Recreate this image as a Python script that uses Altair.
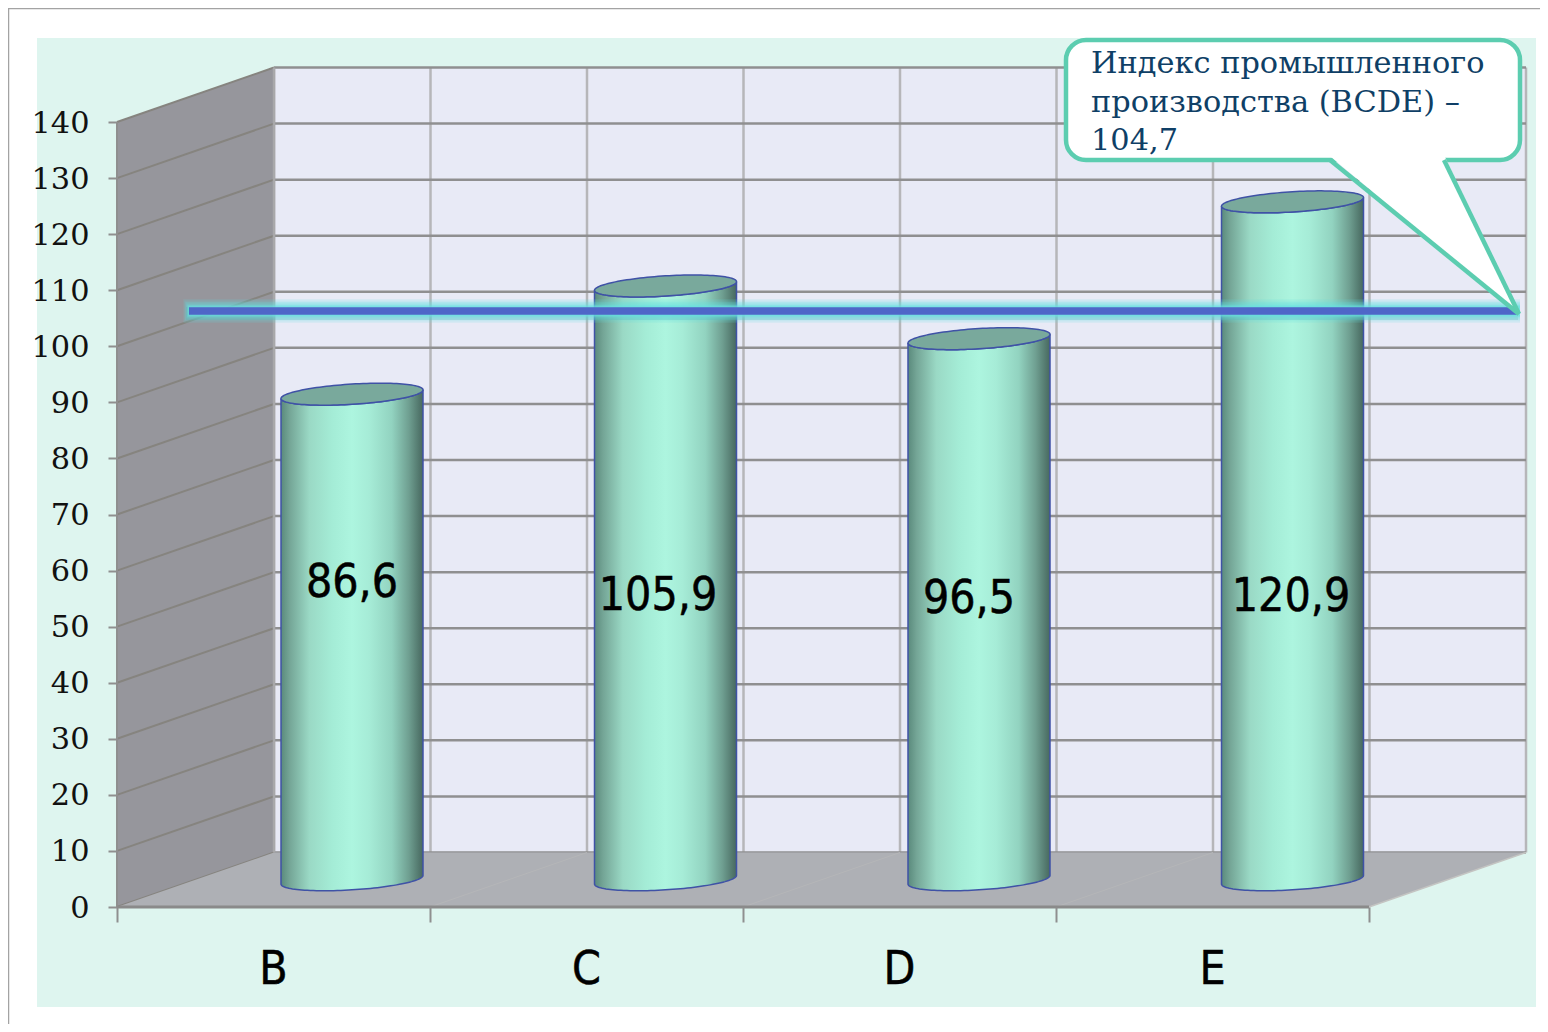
import numpy as np
import pandas as pd
import altair as alt

# ---- chart values -------------------------------------------------------
categories = ["B", "C", "D", "E"]
values = [86.6, 105.9, 96.5, 120.9]
value_labels = ["86,6", "105,9", "96,5", "120,9"]
y_ticks = list(range(0, 150, 10))
x_edges = [0, 1, 2, 3, 4]
index_value = 104.7
callout_lines = ["Индекс промышленного", "производства (BCDE) –", "104,7"]

# ---- projection of the 3D frame -----------------------------------------
W, H = 1532, 1016
PX_U, PX_V = 313.0, 5.607        # px per category, px per value unit
ORG_X, ORG_Y = 117.0, 907.0      # page position of (category 0, value 0)
DEPTH_X, DEPTH_Y = 157.0, 54.5   # px shift from the front to the back plane
BAR_STEP = 313.5
def ux(px): return (px - ORG_X) / PX_U
def vy(py): return (ORG_Y - py) / PX_V
def pu(u, d=0.0): return u + d * DEPTH_X / PX_U
def pv(v, d=0.0): return v + d * DEPTH_Y / PX_V

XS = alt.Scale(domain=[ux(8), ux(8 + W)], nice=False, zero=False)
YS = alt.Scale(domain=[vy(8 + H), vy(8)], nice=False, zero=False)
y_axis = alt.Axis(values=y_ticks, offset=-(ORG_X - 8), tickSize=9, tickWidth=2,
                  tickColor="#8f8f8f", domain=False, grid=False, labelPadding=19,
                  labelFont="DejaVu Serif", labelFontSize=30.4, labelColor="#111111", labelOffset=1,
                  zindex=1, labelFlush=False, labelOverlap=False, title=None)
x_axis = alt.Axis(values=x_edges, offset=-(8 + H - ORG_Y), tickSize=15, tickWidth=2,
                  tickColor="#8f8f8f", domain=False, grid=False, labels=False, zindex=1, title=None)
def X(): return alt.X("x:Q", scale=XS, axis=x_axis, sort=None)
def Y(): return alt.Y("y:Q", scale=YS, axis=y_axis)

def rect(x0, y0, x1, y1, **kw):
    d = pd.DataFrame({"x": [ux(x0)], "x2": [ux(x1)], "y": [vy(y0)], "y2": [vy(y1)]})
    return alt.Chart(d).mark_rect(**kw).encode(x=X(), x2="x2:Q", y=Y(), y2="y2:Q")

def lines(segs, **kw):
    rows = []
    for i, pts in enumerate(segs):
        for k, (a, b) in enumerate(pts):
            rows.append({"x": a, "y": b, "id": i, "k": k})
    return alt.Chart(pd.DataFrame(rows)).mark_line(**kw).encode(
        x=X(), y=Y(), detail="id:N", order="k:Q")

def area(xs, ys, y2s, **kw):
    d = pd.DataFrame({"x": xs, "y": ys, "y2": y2s})
    return alt.Chart(d).mark_area(**kw).encode(x=X(), y=Y(), y2="y2:Q")

layers = []
# outer frame and plate
layers.append(rect(8, 9, 8 + W, 8 + H, fill="white"))
layers.append(lines([[(ux(8.5), vy(8 + H)), (ux(8.5), vy(8.5)), (ux(8 + W), vy(8.5))]],
                    stroke="#a3a3a3", strokeWidth=1.5))
layers.append(rect(37, 38, 1536, 1007, fill="#def5ef"))
# back wall
layers.append(rect(274, 67, 1526, 853, fill="#e8eaf6"))
# vertical grid on the back wall
half_steps = [i * 0.5 for i in range(0, 9)]
layers.append(lines([[(pu(u, 1), pv(0, 1)), (pu(u, 1), pv(140, 1))] for u in half_steps],
                    stroke="#b6b6b9", strokeWidth=2.5))
# horizontal grid on the back wall
layers.append(lines([[(pu(0, 1), pv(v, 1)), (pu(4, 1), pv(v, 1))] for v in y_ticks],
                    stroke="#8f8f90", strokeWidth=2.5))
# side wall
layers.append(area([pu(0, 0), pu(0, 1)], [pv(140, 0), pv(140, 1)], [pv(0, 0), pv(0, 1)], fill="#96969c"))
layers.append(lines([[(pu(0, 0), pv(v, 0)), (pu(0, 1), pv(v, 1))] for v in y_ticks],
                    stroke="#86847f", strokeWidth=2))
# floor
layers.append(area([pu(0, 0), pu(0, 1), pu(4, 0), pu(4, 1)],
                   [pv(0, 0), pv(0, 1), pv(0, 1), pv(0, 1)],
                   [pv(0, 0), pv(0, 0), pv(0, 0), pv(0, 1)], fill="#aeb0b5"))
layers.append(lines([[(pu(u, 0), pv(0, 0)), (pu(u, 1), pv(0, 1))] for u in x_edges[1:-1]],
                    stroke="#b5b6b8", strokeWidth=1))
layers.append(lines([[(pu(4, 0), pv(0, 0)), (pu(4, 1), pv(0, 1))]], stroke="#c4c4c2", strokeWidth=1.5))
layers.append(lines([[(pu(0, 0), pv(0, 0)), (pu(0, 0), pv(140, 0))]], stroke="#8f8f8f", strokeWidth=2))
layers.append(lines([[(pu(0, 1), pv(0, 1)), (pu(0, 1), pv(140, 1))]], stroke="#a8a8aa", strokeWidth=2.5))
layers.append(lines([[(pu(0, 0), pv(0, 0)), (pu(4, 0), pv(0, 0))]], stroke="#8a8a8a", strokeWidth=3))

# cylinders
R = 71.0
CIRC_DX, CIRC_DY = 28.0, 11.0     # px shift of the rim in depth
t0 = np.arctan2(CIRC_DX, np.sqrt(R**2 - CIRC_DX**2))
phi = np.linspace(np.pi, 0, 61)
xoff = R * np.cos(phi) / PX_U
back = CIRC_DY * np.sin(phi + t0) / PX_V
front = CIRC_DY * np.sin(t0 - phi) / PX_V
stops = [(0.0, "#5a8a7c"), (0.06, "#74a596"), (0.2, "#9ad9c5"), (0.36, "#a4ecd6"),
         (0.5, "#adf5df"), (0.62, "#a6ecd7"), (0.78, "#92d3c0"), (0.9, "#6f9f91"), (1.0, "#47685f")]
grad = alt.Gradient(gradient="linear", x1=0, x2=1, y1=0, y2=0,
                    stops=[alt.GradientStop(offset=o, color=c) for o, c in stops])
for i, v in enumerate(values):
    cu = pu(0.5, 0.5) + i * BAR_STEP / PX_U
    base = pv(0, 0.5)
    top = pv(v, 0.5)
    layers.append(area(cu + xoff, top + front, base + front,
                       color=grad, stroke="#3f52a6", strokeWidth=1.5))
    layers.append(area(cu + xoff, top + back, top + front,
                       fill="#79a99c", stroke="#3f52a6", strokeWidth=1.5))

# index line with a glow
line_depth = 0.165
ly = pv(index_value, line_depth)
shadow = ly - 2.5 / PX_V
layers.append(lines([[(ux(186), shadow), (ux(1518), shadow)]], stroke="#3f7f90", strokeWidth=13, opacity=0.22))
for w, op in [(24, 0.12), (21, 0.16), (18, 0.2), (15, 0.26), (12, 0.34), (10, 0.4)]:
    layers.append(lines([[(ux(189 - (w - 7) / 3), ly), (ux(1520), ly)]], stroke="#66e2e2", strokeWidth=w,
                        opacity=op))
layers.append(lines([[(ux(189), ly), (ux(1518), ly)]], stroke="#4f66c8", strokeWidth=7.5))

# callout
TEAL = "#5ccdb0"
tip = (ux(1519), vy(314))
layers.append(rect(1066, 40, 1520, 160, fill="white", stroke=TEAL, strokeWidth=4.5, cornerRadius=20))
layers.append(area([ux(1331), ux(1445), tip[0]], [vy(157), vy(157), tip[1]],
                   [vy(157), vy(157 + (1445 - 1331) * (314 - 157) / (1519 - 1331)), tip[1]], fill="white"))
layers.append(lines([[(ux(1330), vy(160)), tip], [(ux(1444), vy(160)), tip]],
                    stroke=TEAL, strokeWidth=4.5))
cl = pd.DataFrame({"x": [ux(1091)] * 3, "y": [vy(b) for b in (73, 112, 150)], "t": callout_lines})
layers.append(alt.Chart(cl).mark_text(align="left", baseline="alphabetic", font="DejaVu Serif",
                                      fontSize=30.4, color="#0f3f66").encode(x=X(), y=Y(), text="t:N"))

# value labels and category labels
lab_px = [352, 658, 969, 1291]
lab_py = [583, 596, 599, 597]
vl = pd.DataFrame({"x": [ux(p) for p in lab_px], "y": [vy(p) for p in lab_py], "t": value_labels})
layers.append(alt.Chart(vl).mark_text(align="center", baseline="middle", font="DejaVu Sans Condensed, DejaVu Sans",
                                      fontSize=46, color="#000000", stroke="#000000", strokeWidth=0.5
                                      ).encode(x=X(), y=Y(), text="t:N"))
cd = pd.DataFrame({"x": [i + 0.5 for i in range(4)], "y": [vy(970)] * 4, "t": categories})
layers.append(alt.Chart(cd).mark_text(align="center", baseline="middle", font="DejaVu Sans Condensed, DejaVu Sans",
                                      fontSize=46, color="#000000", stroke="#000000", strokeWidth=0.5
                                      ).encode(x=X(), y=Y(), text="t:N"))

chart = alt.layer(*layers).properties(
    width=W, height=H, padding=0,
    autosize=alt.AutoSizeParams(type="none"),
    background="white",
).configure_view(stroke=None)

chart.save("out.html", embed_options={"renderer": "svg", "actions": False})
